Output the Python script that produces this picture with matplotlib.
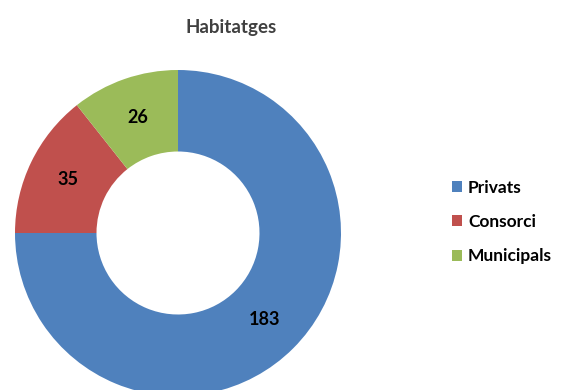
import matplotlib
matplotlib.use('Agg')
from matplotlib import pyplot as plt
from matplotlib.patches import Patch

# chart data
categories = ['Privats', 'Consorci', 'Municipals']
values = [183, 35, 26]
colors = ['#4F81BD', '#C0504D', '#9BBB59']
title = 'Habitatges'

plt.rcParams['font.family'] = ['Lato', 'DejaVu Sans']

W, H = 565, 390
fig = plt.figure(figsize=(W / 100, H / 100), dpi=100)

# donut centred at (178, 233) px, outer radius 163 px
cx, cy, r = 178, 233, 163
ax = fig.add_axes([(cx - r) / W, (H - cy - r) / H, 2 * r / W, 2 * r / H])

wedges, texts, autotexts = ax.pie(
    values, colors=colors, startangle=90, counterclock=False,
    radius=1, wedgeprops=dict(width=0.5, linewidth=0),
    autopct=lambda p: '{:.0f}'.format(p * sum(values) / 100),
    pctdistance=0.75)
for t in autotexts:
    t.set_fontsize(13)
    t.set_fontweight('bold')
    t.set_color('black')
ax.set_xlim(-1, 1)
ax.set_ylim(-1, 1)
ax.axis('off')

fig.text(231 / W, 1 - 27 / H, title, ha='center', va='center',
         fontsize=13.5, fontweight='bold', color='#404040')

handles = [Patch(facecolor=c, edgecolor='none') for c in colors]
fig.legend(handles, categories, loc='center left',
           bbox_to_anchor=(436 / W, 1 - 222 / H), frameon=False,
           handlelength=0.6, handleheight=0.6, handletextpad=0.35,
           labelspacing=1.05, prop=dict(size=12.5, weight='bold'))

fig.savefig('out.png', dpi=100)
